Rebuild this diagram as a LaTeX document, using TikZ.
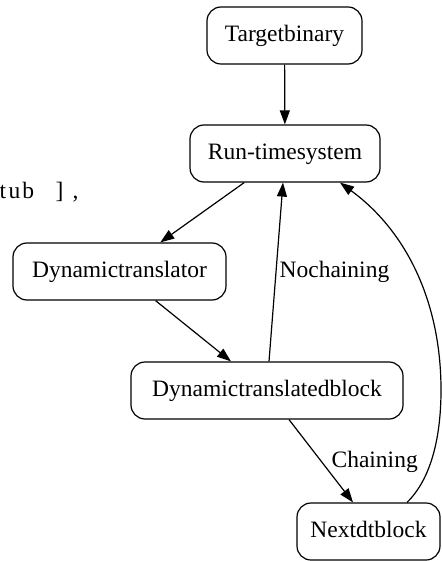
\documentclass[tikz,border=0pt]{standalone}
\usepackage{fontspec}
\setmainfont{Liberation Serif}
\newfontfamily\dfont{Liberation Serif}
\usetikzlibrary{arrows.meta}
\begin{document}
\begin{tikzpicture}[x=1pt,y=-1pt,
  box/.style={draw,line width=1.2pt,rounded corners=14pt,inner sep=0pt,
    minimum height=57pt,text height=17pt,text depth=5pt,
    font=\dfont\fontsize{23.5}{28}\selectfont},
  lbl/.style={inner sep=0pt,anchor=base west,font=\dfont\fontsize{23.5}{28}\selectfont},
  conn/.style={line width=1.2pt,-{Triangle[length=14pt,width=10pt]}}]
\useasboundingbox (0,0) rectangle (441,561);
\node[box,minimum width=155pt] (tb) at (284.5,35.5) {Targetbinary};
\node[box,minimum width=190pt] (rt) at (285,153.5) {Run-timesystem};
\node[box,minimum width=213pt] (dt) at (119.5,271.5) {Dynamictranslator};
\node[box,minimum width=272pt] (dtb) at (267,390.5) {Dynamictranslatedblock};
\node[box,minimum width=143pt] (nx) at (368.5,531.5) {Nextdtblock};
\node[lbl] (stub) at (-0.5,199) {\makebox[56pt][l]{t\kern2.5pt u\kern2pt b}\makebox[17pt][l]{]},};
\draw[conn] (tb) -- (rt);
\draw[conn] (rt) -- (dt);
\draw[conn] (dt) -- (dtb);
\draw[conn] ([xshift=2pt]dtb.north) -- ([xshift=-2pt]rt.south)
  node[lbl] (nc) at (279,277) {Nochaining};
\draw[conn] ([xshift=22pt]dtb.south) -- ([xshift=-15.5pt]nx.north)
  node[lbl] (ch) at (331,467) {Chaining};
\draw[conn] ([xshift=38.5pt]nx.north) .. controls (430,480) and (441,440) .. (441,390)
  .. controls (441,300) and (405,230) .. ([xshift=55pt]rt.south);
\end{tikzpicture}
\end{document}
